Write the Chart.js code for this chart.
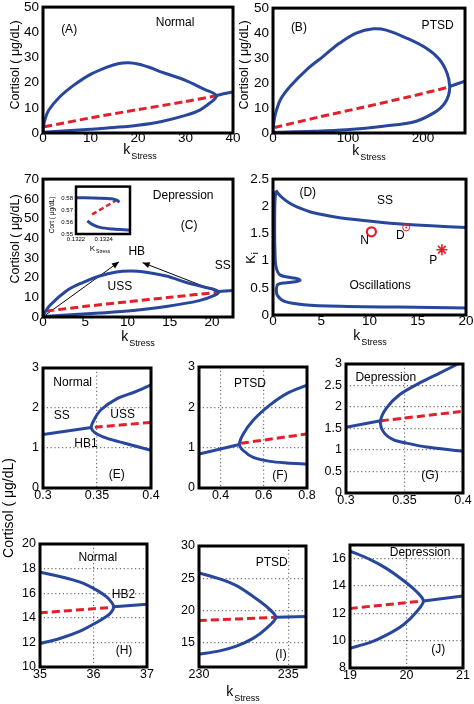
<!DOCTYPE html>
<html><head><meta charset="utf-8">
<script src="https://cdn.jsdelivr.net/npm/chart.js@4.4.1/dist/chart.umd.min.js"></script>
<style>
html,body{margin:0;padding:0;background:#fff;}
#fig{position:relative;width:474px;height:704px;overflow:hidden;font-family:'Liberation Sans',Arial,sans-serif;}
canvas{position:absolute;}
.t{position:absolute;white-space:nowrap;color:#000;line-height:1;transform:translate(-50%,-50%);z-index:5;}
.r{transform:translate(-50%,-50%) rotate(-90deg);}
.t sub{position:relative;vertical-align:baseline;margin-left:1px;}
</style></head><body><div id="fig">
<div class="t r" style="left:14.5px;top:65px;font-size:12.5px">Cortisol ( μg/dL)</div>
<div class="t r" style="left:244px;top:65px;font-size:12.5px">Cortisol ( μg/dL)</div>
<div class="t r" style="left:15px;top:239px;font-size:12.5px">Cortisol ( μg/dL)</div>
<div class="t r" style="left:250px;top:258px;font-size:13px">K<sub style="font-size:9px;top:3px">i</sub></div>
<div class="t r" style="left:8px;top:508px;font-size:14px">Cortisol ( μg/dL)</div>
<div class="t" style="left:140px;top:149px;font-size:14px">k<sub style="font-size:9px;top:5px">Stress</sub></div>
<div class="t" style="left:369px;top:150px;font-size:14px">k<sub style="font-size:9px;top:5px">Stress</sub></div>
<div class="t" style="left:138px;top:336px;font-size:14px">k<sub style="font-size:9px;top:5px">Stress</sub></div>
<div class="t" style="left:370px;top:335px;font-size:14px">k<sub style="font-size:9px;top:5px">Stress</sub></div>
<div class="t" style="left:243px;top:691px;font-size:14px">k<sub style="font-size:9px;top:5px">Stress</sub></div>
<div class="t r" style="left:52px;top:215px;font-size:6.5px">Cort ( μg/dL)</div>
<div class="t" style="left:100px;top:249px;font-size:8px">K<sub style="font-size:5px;top:2px">Stress</sub></div>
</div>
<script>
// ---------------- DATA ----------------
// Panel A - Normal
const A_xTicks = [0, 10, 20, 30, 40];
const A_yTicks = [0, 10, 20, 30, 40, 50];
const A_loopX = [0, 0.3, 1.2, 3.5, 6.5, 10, 13.5, 16, 18, 20, 22.5, 25, 30, 34, 35.8, 36.5, 36.2, 35.2, 33, 30, 25, 20, 15, 10, 5, 0];
const A_loopY = [0.8, 4.5, 9, 14.3, 19, 23.3, 26.2, 27.6, 27.9, 27.4, 26.0, 24.2, 20.9, 17.3, 15.9, 14.8, 13.6, 12.0, 9.1, 7.0, 4.6, 3.1, 2.2, 1.5, 0.9, 0.3];
const A_ssX = [36.4, 38, 40];
const A_ssY = [14.8, 15.6, 16.3];
const A_ussX = [0.3, 10, 20, 30, 36.4];
const A_ussY = [2.5, 6.0, 9.3, 12.5, 14.8];

// Panel B - PTSD
const B_xTicks = [0, 100, 200];
const B_yTicks = [0, 10, 20, 30, 40, 50];
const B_loopX = [0, 1.5, 4, 10, 23, 45, 67, 89, 111, 134, 151, 178, 204, 222, 232, 235.5, 234, 228, 218, 191, 147, 98, 54, 0];
const B_loopY = [1.0, 5, 8.5, 13.4, 18.7, 25.4, 30.7, 36, 40, 41.7, 41.2, 38, 34, 29.4, 24, 19, 15, 11.5, 8.7, 4.7, 2.7, 1.3, 0.7, 0.3];
const B_ssX = [235.5, 245, 256];
const B_ssY = [18.6, 19.6, 20.7];
const B_ussX = [2, 60, 120, 180, 235];
const B_ussY = [2.2, 6.3, 10.3, 14.4, 18.4];

// Panel C - Depression
const C_xTicks = [0, 5, 10, 15, 20];
const C_yTicks = [0, 10, 20, 30, 40, 50, 60, 70];
const C_loopX = [0, 0.8, 2.8, 4.7, 6.7, 8.7, 10.3, 11.8, 14.6, 17, 19.3, 20.4, 20.8, 20.3, 18.5, 14.6, 10.7, 6.7, 2.8, 0];
const C_loopY = [0.8, 5.8, 13.3, 17.5, 20.8, 22.8, 23.3, 23, 20.8, 17.5, 15, 13.8, 12.6, 11, 8.3, 5.3, 3.3, 2, 1, 0.3];
const C_ssX = [20.8, 21.6, 22.5];
const C_ssY = [12.9, 13.2, 13.4];
const C_ussX = [0.4, 5, 10, 15, 20.6];
const C_ussY = [3, 5.4, 7.7, 10, 12.5];
const C_arrow1X = [0.24, 9.0];
const C_arrow1Y = [0.8, 28.0];
const C_arrow2X = [20.4, 11.8];
const C_arrow2Y = [13.3, 27.6];

// Panel C inset
const In_xTicks = [0.1322, 0.1324];
const In_yTicks = [0.55, 0.56, 0.57, 0.58];
const In_upX = [0.132205, 0.132373, 0.132458, 0.132498, 0.132513];
const In_upY = [0.58021, 0.57988, 0.57934, 0.57798, 0.57634];
const In_ussX = [0.132498, 0.132306];
const In_ussY = [0.57856, 0.56564];
const In_loX = [0.132282, 0.132313, 0.132373, 0.132469, 0.132585];
const In_loY = [0.56095, 0.55823, 0.55551, 0.55412, 0.55329];

// Panel D - two-parameter diagram
const D_xTicks = [0, 5, 10, 15, 20];
const D_yTicks = [0, 0.5, 1, 1.5, 2, 2.5];
const D_upperX = [0.3, 0.6, 1.07, 1.7, 2.47, 4.2, 6.6, 9.4, 12.9, 16.4, 20];
const D_upperY = [2.29, 2.22, 2.14, 2.06, 1.99, 1.88, 1.80, 1.74, 1.68, 1.64, 1.61];
const D_lowerX = [0.3, 0.2, 0.17, 0.2, 0.3, 0.7, 1.8, 2.5, 2.8, 2.3, 1.2, 0.5, 0.35, 0.45, 1.2, 3.2, 7, 13, 20];
const D_lowerY = [2.29, 2.1, 1.6, 1.2, 0.9, 0.74, 0.69, 0.67, 0.64, 0.61, 0.59, 0.56, 0.48, 0.36, 0.25, 0.19, 0.16, 0.145, 0.13];
const D_markX = [10.2, 13.8, 17.5];   // N, D, P
const D_markY = [1.53, 1.61, 1.20];

// Panel E - Normal, HB1
const E_xTicks = [0.3, 0.35, 0.4];
const E_yTicks = [0, 1, 2, 3];
const E_ssX = [0.3, 0.3447];
const E_ssY = [1.34, 1.51];
const E_cycX = [0.4, 0.385, 0.369, 0.3534, 0.3472, 0.3447, 0.3488, 0.3596, 0.3756, 0.4];
const E_cycY = [2.58, 2.40, 2.24, 1.95, 1.70, 1.51, 1.37, 1.24, 1.12, 0.94];
const E_ussX = [0.348, 0.4];
const E_ussY = [1.52, 1.64];

// Panel F - PTSD
const F_xTicks = [0.4, 0.6, 0.8];
const F_yTicks = [0, 1, 2, 3];
const F_ssX = [0.3, 0.487];
const F_ssY = [0.84, 1.08];
const F_cycX = [0.8, 0.706, 0.629, 0.551, 0.505, 0.487, 0.505, 0.551, 0.629, 0.706, 0.8];
const F_cycY = [2.55, 2.34, 2.06, 1.68, 1.34, 1.08, 0.93, 0.76, 0.66, 0.62, 0.59];
const F_ussX = [0.495, 0.8];
const F_ussY = [1.11, 1.34];

// Panel G - Depression
const G_xTicks = [0.3, 0.35, 0.4];
const G_yTicks = [0, 0.5, 1, 1.5, 2, 2.5, 3];
const G_ssX = [0.3, 0.3295];
const G_ssY = [1.53, 1.68];
const G_cycX = [0.3957, 0.38, 0.363, 0.346, 0.3347, 0.3295, 0.3318, 0.3403, 0.3517, 0.3688, 0.4];
const G_cycY = [3.0, 2.79, 2.56, 2.29, 1.98, 1.68, 1.43, 1.24, 1.16, 1.07, 0.97];
const G_ussX = [0.33, 0.4];
const G_ussY = [1.68, 1.90];

// Panel H - Normal, HB2
const H_xTicks = [35, 36, 37];
const H_yTicks = [10, 12, 14, 16, 18, 20];
const H_cycX = [35, 35.37, 35.75, 36.05, 36.24, 36.33, 36.38, 36.33, 36.24, 36.05, 35.75, 35.37, 35];
const H_cycY = [17.71, 17.36, 16.9, 16.27, 15.72, 15.3, 14.9, 14.45, 14.1, 13.6, 12.92, 12.32, 11.91];
const H_ssX = [36.38, 37];
const H_ssY = [14.9, 15.1];
const H_ussX = [35, 36.36];
const H_ussY = [14.41, 14.85];

// Panel I - PTSD
const I_xTicks = [230, 235];
const I_yTicks = [15, 20, 25, 30];
const I_cycX = [230, 231.16, 232.1, 233.03, 233.78, 234.31, 233.78, 233.03, 232.1, 231.16, 230];
const I_cycY = [25.83, 24.9, 23.85, 22.19, 20.63, 18.95, 17.24, 15.68, 14.48, 13.75, 13.23];
const I_ssX = [234.31, 236];
const I_ssY = [18.95, 19.06];
const I_ussX = [230, 234.25];
const I_ussY = [18.44, 18.95];

// Panel J - Depression
const J_xTicks = [19, 20, 21];
const J_yTicks = [8, 10, 12, 14, 16];
const J_cycX = [19, 19.36, 19.65, 19.94, 20.18, 20.3, 20.18, 19.94, 19.65, 19.36, 19];
const J_cycY = [16.56, 15.93, 15.27, 14.42, 13.58, 12.9, 12.12, 11.15, 10.42, 9.87, 9.45];
const J_ssX = [20.3, 21];
const J_ssY = [12.9, 13.27];
const J_ussX = [19, 20.27];
const J_ussY = [12.36, 12.9];

// in-plot labels (text at data coordinates)
const A_notes = [{t:'(A)', x:5.5, y:41.1}, {t:'Normal', x:27.8, y:43.8}];
const B_notes = [{t:'(B)', x:34.5, y:42}, {t:'PTSD', x:219.5, y:42.9}];
const C_notes = [{t:'Depression', x:16.6, y:61.6}, {t:'(C)', x:17.3, y:46.3}, {t:'HB', x:11.1, y:33.1}, {t:'USS', x:9.1, y:15.6}, {t:'SS', x:21.3, y:25.8}];
const D_notes = [{t:'(D)', x:3.6, y:2.25}, {t:'SS', x:11.6, y:2.1}, {t:'N', x:9.5, y:1.36}, {t:'D', x:13.2, y:1.46}, {t:'P', x:16.6, y:0.99}, {t:'Oscillations', x:11.1, y:0.54}];
const E_notes = [{t:'Normal', x:0.3275, y:2.64}, {t:'SS', x:0.3173, y:1.8}, {t:'USS', x:0.3738, y:1.83}, {t:'HB1', x:0.3398, y:1.12}, {t:'(E)', x:0.3682, y:0.34}];
const F_notes = [{t:'PTSD', x:0.536, y:2.58}, {t:'(F)', x:0.675, y:0.30}];
const G_notes = [{t:'Depression', x:0.334, y:2.68}, {t:'(G)', x:0.3718, y:0.40}];
const H_notes = [{t:'Normal', x:36.08, y:18.89}, {t:'HB2', x:36.56, y:15.85}, {t:'(H)', x:36.57, y:11.33}];
const I_notes = [{t:'PTSD', x:234.08, y:27.4}, {t:'(I)', x:234.6, y:13.1}];
const J_notes = [{t:'Depression', x:20.24, y:16.41}, {t:'(J)', x:20.56, y:9.31}];

// ---------------- RENDERING ----------------
const FONT = "'Liberation Sans', Arial, Helvetica, sans-serif";
const BLUE = '#28479c', RED = '#e3202a';
const pts = (xs, ys) => xs.map((x, i) => ({x: x, y: ys[i]}));
const solid = (xs, ys, t) => ({data: pts(xs, ys), showLine: true, borderColor: BLUE, borderWidth: 3, pointRadius: 0, tension: t === undefined ? 0.35 : t, fill: false});
const dashed = (xs, ys) => ({data: pts(xs, ys), showLine: true, borderColor: RED, borderWidth: 3, borderDash: [8, 4], pointRadius: 0, tension: 0.3, fill: false});
const arrow = (xs, ys) => ({data: pts(xs, ys), showLine: true, borderColor: '#000', borderWidth: 1, pointRadius: 0, tension: 0, arrowHead: true});
const fmt = v => String(+Number(v).toFixed(6));

const framePlugin = {
  id: 'frame',
  beforeDraw(chart, a, o) {
    if (o.bg) { const c = chart.chartArea, ctx = chart.ctx; ctx.save(); ctx.fillStyle = o.bg; ctx.fillRect(c.left, c.top, c.right - c.left, c.bottom - c.top); ctx.restore(); }
  },
  afterDatasetsDraw(chart, a, o) {
    const ctx = chart.ctx, c = chart.chartArea;
    // arrow heads
    chart.data.datasets.forEach((ds, i) => {
      if (!ds.arrowHead) return;
      const el = chart.getDatasetMeta(i).data; const p1 = el[el.length - 2], p2 = el[el.length - 1];
      const ang = Math.atan2(p2.y - p1.y, p2.x - p1.x), L = 7, W = 3;
      ctx.save(); ctx.fillStyle = '#000'; ctx.beginPath();
      ctx.moveTo(p2.x, p2.y);
      ctx.lineTo(p2.x - L * Math.cos(ang) + W * Math.sin(ang), p2.y - L * Math.sin(ang) - W * Math.cos(ang));
      ctx.lineTo(p2.x - L * Math.cos(ang) - W * Math.sin(ang), p2.y - L * Math.sin(ang) + W * Math.cos(ang));
      ctx.closePath(); ctx.fill(); ctx.restore();
    });
    ctx.save(); ctx.strokeStyle = '#000'; ctx.lineWidth = o.width || 3; ctx.lineJoin = 'miter';
    ctx.strokeRect(c.left, c.top, c.right - c.left, c.bottom - c.top); ctx.restore();
  },
  afterDraw(chart, a, o) {
    const ctx = chart.ctx, xs = chart.scales.x, ys = chart.scales.y;
    (o.notes || []).forEach(n => {
      ctx.save(); ctx.font = (n.s || o.noteSize || 12) + 'px ' + FONT; ctx.fillStyle = '#000';
      ctx.textAlign = 'center'; ctx.textBaseline = 'middle';
      ctx.fillText(n.t, xs.getPixelForValue(n.x), ys.getPixelForValue(n.y)); ctx.restore();
    });
  }
};

function axis(lim, ticks, size, grid, pad, fixed, isX) {
  return {
    type: 'linear', min: lim[0], max: lim[1],
    afterBuildTicks: s => { s.ticks = ticks.map(v => ({value: v})); },
    afterFit: s => { if (isX) s.height = fixed; else s.width = fixed; },
    ticks: {autoSkip: false, maxRotation: 0, minRotation: 0, padding: pad, color: '#000', font: {family: FONT, size: size}, callback: v => fmt(v)},
    grid: {display: grid, drawOnChartArea: true, drawTicks: false, color: '#707070', lineWidth: 1.2, borderDash: [1.2, 2.6]},
    border: {display: false, dash: [1.2, 2.6]}
  };
}

function panel(p) {
  const padL = p.padL || 42, padT = p.padT || 12, padR = p.padR || 16, padB = p.padB || 22;
  const r = p.rect;
  const W = r.r - r.l + padL + padR, H = r.b - r.t + padT + padB;
  const cv = document.createElement('canvas');
  cv.width = W; cv.height = H;
  cv.style.left = (r.l - padL) + 'px'; cv.style.top = (r.t - padT) + 'px';
  cv.style.width = W + 'px'; cv.style.height = H + 'px';
  if (p.z) cv.style.zIndex = p.z;
  document.getElementById('fig').appendChild(cv);
  new Chart(cv, {
    type: 'scatter',
    data: {datasets: p.datasets},
    options: {
      responsive: false, animation: false, events: [],
      layout: {padding: {top: padT, right: padR, left: 0, bottom: 0}},
      plugins: {legend: {display: false}, tooltip: {enabled: false},
        frame: {width: p.frameW || 3, bg: p.bg, notes: p.notes, noteSize: p.noteSize}},
      scales: {
        x: axis(p.xlim, p.xticks, p.size, !!p.grid, p.xPad === undefined ? 0 : p.xPad, padB, true),
        y: axis(p.ylim, p.yticks, p.size, !!p.grid, p.yPad === undefined ? 4 : p.yPad, padL, false)
      }
    },
    plugins: [framePlugin]
  });
}

panel({rect: {l: 43, t: 7, r: 233, b: 133}, xlim: [0, 40], xticks: A_xTicks, ylim: [0, 50], yticks: A_yTicks, size: 13.5, xPad: -3,
  datasets: [solid(A_loopX, A_loopY), solid(A_ssX, A_ssY, 0), dashed(A_ussX, A_ussY)], notes: A_notes});
panel({rect: {l: 273, t: 8, r: 465, b: 133}, xlim: [0, 256], xticks: B_xTicks, ylim: [0, 50], yticks: B_yTicks, size: 13.5, xPad: -3,
  datasets: [solid(B_loopX, B_loopY), solid(B_ssX, B_ssY, 0), dashed(B_ussX, B_ussY)], notes: B_notes});
panel({rect: {l: 43, t: 179, r: 233, b: 317}, xlim: [0, 22.5], xticks: C_xTicks, ylim: [0, 70], yticks: C_yTicks, size: 13.5, xPad: -3,
  datasets: [solid(C_loopX, C_loopY), solid(C_ssX, C_ssY, 0), dashed(C_ussX, C_ussY), arrow(C_arrow1X, C_arrow1Y), arrow(C_arrow2X, C_arrow2Y)], notes: C_notes});
panel({rect: {l: 76, t: 186, r: 130, b: 234}, xlim: [0.1322, 0.13259], xticks: In_xTicks, ylim: [0.55, 0.5895], yticks: In_yTicks, size: 6,
  padL: 22, padT: 6, padR: 12, padB: 12, xPad: 2, yPad: 3, frameW: 2.5, bg: '#fff', z: 3,
  datasets: [solid(In_upX, In_upY, 0.3), solid(In_loX, In_loY, 0.3), {data: pts(In_ussX, In_ussY), showLine: true, borderColor: RED, borderWidth: 2.5, borderDash: [5, 3], pointRadius: 0}]});
panel({rect: {l: 273, t: 179, r: 466, b: 315}, xlim: [0, 20], xticks: D_xTicks, ylim: [0, 2.5], yticks: D_yTicks, size: 13.5, xPad: -2,
  datasets: [
    {data: [{x: D_markX[0], y: D_markY[0]}], pointStyle: 'circle', pointRadius: 4.5, borderColor: RED, borderWidth: 2.2, backgroundColor: 'rgba(0,0,0,0)'},
    {data: [{x: D_markX[1], y: D_markY[1]}], pointStyle: 'circle', pointRadius: 3.5, borderColor: RED, borderWidth: 1, backgroundColor: 'rgba(0,0,0,0)'},
    {data: [{x: D_markX[1], y: D_markY[1]}], pointStyle: 'circle', pointRadius: 0.9, borderColor: RED, borderWidth: 0, backgroundColor: RED},
    {data: [{x: D_markX[2], y: D_markY[2]}], pointStyle: 'star', pointRadius: 5.5, borderColor: RED, borderWidth: 1.6},
    solid(D_upperX, D_upperY, 0.3), solid(D_lowerX, D_lowerY, 0.3)], notes: D_notes});

panel({rect: {l: 43, t: 368, r: 151, b: 488}, xlim: [0.3, 0.4], xticks: E_xTicks, ylim: [0, 3], yticks: E_yTicks, size: 12.5, grid: true,
  datasets: [solid(E_cycX, E_cycY, 0.3), solid(E_ssX, E_ssY, 0), dashed(E_ussX, E_ussY)], notes: E_notes});
panel({rect: {l: 199, t: 367, r: 307, b: 488}, xlim: [0.3, 0.8], xticks: F_xTicks, ylim: [0, 3], yticks: F_yTicks, size: 12.5, grid: true,
  datasets: [solid(F_cycX, F_cycY, 0.3), solid(F_ssX, F_ssY, 0), dashed(F_ussX, F_ussY)], notes: F_notes});
panel({rect: {l: 346, t: 364, r: 463, b: 493}, xlim: [0.3, 0.4], xticks: G_xTicks, ylim: [0, 3], yticks: G_yTicks, size: 12.5, grid: true,
  datasets: [solid(G_cycX, G_cycY, 0.3), solid(G_ssX, G_ssY, 0), dashed(G_ussX, G_ussY)], notes: G_notes});
panel({rect: {l: 40, t: 544, r: 147, b: 667}, xlim: [35, 37], xticks: H_xTicks, ylim: [10, 20], yticks: H_yTicks, size: 12.5, grid: true,
  datasets: [solid(H_cycX, H_cycY, 0.3), solid(H_ssX, H_ssY, 0), dashed(H_ussX, H_ussY)], notes: H_notes});
panel({rect: {l: 199, t: 546, r: 306, b: 667}, xlim: [230, 236], xticks: I_xTicks, ylim: [11.25, 30], yticks: I_yTicks, size: 12.5, grid: true,
  datasets: [solid(I_cycX, I_cycY, 0.3), solid(I_ssX, I_ssY, 0), dashed(I_ussX, I_ussY)], notes: I_notes});
panel({rect: {l: 350, t: 545, r: 463, b: 668}, xlim: [19, 21], xticks: J_xTicks, ylim: [8, 17], yticks: J_yTicks, size: 12.5, grid: true,
  datasets: [solid(J_cycX, J_cycY, 0.3), solid(J_ssX, J_ssY, 0), dashed(J_ussX, J_ussY)], notes: J_notes});
</script></body></html>
